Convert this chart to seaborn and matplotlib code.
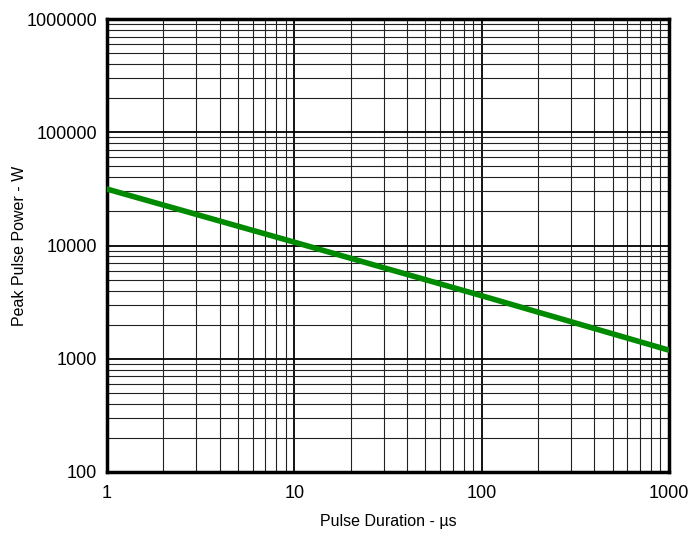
import matplotlib
matplotlib.use("Agg")
import matplotlib.pyplot as plt
import seaborn as sns
import pandas as pd
from matplotlib.ticker import LogLocator, FixedLocator, FixedFormatter, NullFormatter

duration_us = [1, 10, 100, 1000]
peak_power_w = [31500, 10700, 3600, 1190]
x_ticks = [1, 10, 100, 1000]
x_labels = ["1", "10", "100", "1000"]
y_ticks = [100, 1000, 10000, 100000, 1000000]
y_labels = ["100", "1000", "10000", "100000", "1000000"]

sns.set_style("white")
plt.rcParams["font.family"] = ["Liberation Sans", "DejaVu Sans"]

df = pd.DataFrame({"x": duration_us, "y": peak_power_w})

fig = plt.figure(figsize=(6.92, 5.35), dpi=100)
ax = fig.add_axes([107/692, 1 - 472/535, (669-107)/692, (472-19)/535])
ax.set_xscale("log")
ax.set_yscale("log")
ax.set_xlim(1, 1000)
ax.set_ylim(100, 1000000)

ax.xaxis.set_major_locator(FixedLocator(x_ticks))
ax.xaxis.set_major_formatter(FixedFormatter(x_labels))
ax.yaxis.set_major_locator(FixedLocator(y_ticks))
ax.yaxis.set_major_formatter(FixedFormatter(y_labels))
ax.xaxis.set_minor_locator(LogLocator(base=10, subs=range(2, 10)))
ax.yaxis.set_minor_locator(LogLocator(base=10, subs=range(2, 10)))
ax.xaxis.set_minor_formatter(NullFormatter())
ax.yaxis.set_minor_formatter(NullFormatter())

ax.grid(True, which="major", color="black", linewidth=1.3)
ax.grid(True, which="minor", color="#222222", linewidth=0.8)
ax.set_axisbelow(True)

sns.lineplot(data=df, x="x", y="y", ax=ax, color="#008a00", linewidth=4, zorder=5)

for s in ax.spines.values():
    s.set_visible(True)
    s.set_color("black")
    s.set_linewidth(2.5)

ax.tick_params(which="both", length=0, labelsize=13, colors="black", pad=9)
ax.tick_params(axis="y", pad=7)
ax.set_xlabel("Pulse Duration - µs", fontsize=11.5, labelpad=9, color="black")
ax.set_ylabel("Peak Pulse Power - W", fontsize=11.5, labelpad=0, color="black")

fig.savefig("out.png", dpi=100)
